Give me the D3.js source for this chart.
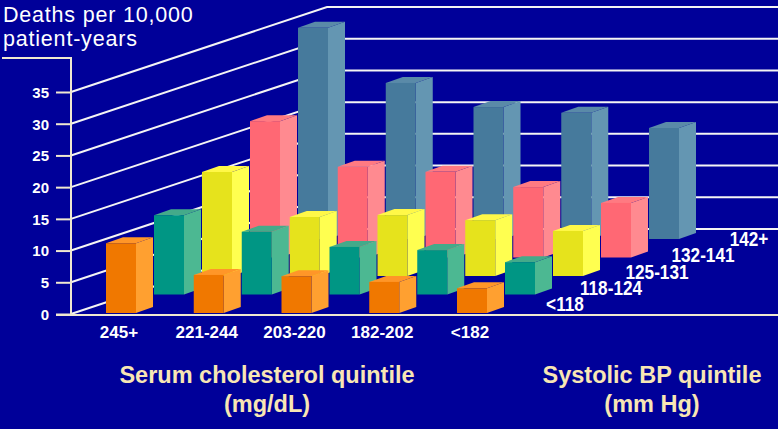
<!DOCTYPE html>
<html>
<head>
<meta charset="utf-8">
<script src="https://cdn.jsdelivr.net/npm/d3@7"></script>
<style>
  html, body { margin: 0; padding: 0; background: #000099; }
  svg { display: block; }
</style>
</head>
<body>
<div id="chart-area"></div>
<script>

const WIDTH = 778;
const HEIGHT = 429;

// serum cholesterol quintiles (columns, left to right)
const cholesterol = ['245+', '221-244', '203-220', '182-202', '<182'];
// systolic BP quintiles (rows, front to back)
const sbp = ['<118', '118-124', '125-131', '132-141', '142+'];

// deaths per 10,000 patient-years, one array per SBP quintile
const sbpUnder118 = [11.0, 6.0, 5.8, 4.9, 3.9];
const sbp118to124 = [12.5, 9.9, 7.5, 7.0, 5.1];
const sbp125to131 = [16.4, 9.3, 9.6, 8.8, 7.1];
const sbp132to141 = [21.5, 14.3, 13.5, 11.1, 8.6];
const sbp142plus  = [33.3, 24.6, 20.8, 19.9, 17.5];

const yTicks = [0, 5, 10, 15, 20, 25, 30, 35];

const rows = [sbpUnder118, sbp118to124, sbp125to131, sbp132to141, sbp142plus];

// front / side / top shades for each row
const palette = [
    { front: '#f07800', side: '#ffa030', top: '#ff9628' },
    { front: '#009684', side: '#4cb892', top: '#44aa8a' },
    { front: '#e6e31c', side: '#ffff50', top: '#fff848' },
    { front: '#ff6874', side: '#ff8a90', top: '#ff7a82' },
    { front: '#467a9c', side: '#6496b2', top: '#5a8aa8' }
];

const BAR_W = 30;
const DEPTH_X = 17;
const DEPTH_Y = -6;
const WALL_X = 256;
const WALL_Y = -85;
const AXIS_X = 71;

const svg = d3.select('#chart-area').append('svg')
    .attr('width', WIDTH)
    .attr('height', HEIGHT)

svg.append('rect')
    .attr('width', WIDTH)
    .attr('height', HEIGHT)
    .attr('fill', '#000099')

const y = d3.scaleLinear()
    .domain([0, 35])
    .range([314, 92])

const x = d3.scalePoint()
    .domain(cholesterol)
    .range([106, 457])

// row depth offsets
const zx = d3.scaleLinear().domain([0, sbp.length - 1]).range([0, 192]);
const zy = d3.scaleLinear().domain([0, sbp.length - 1]).range([313, 239]);

// side wall + back wall grid lines
svg.append('g')
    .selectAll('path')
    .data(yTicks)
    .enter().append('path')
    .attr('d', d => `M${AXIS_X},${y(d)} L${AXIS_X + WALL_X},${y(d) + WALL_Y} L${WIDTH},${y(d) + WALL_Y}`)
    .attr('fill', 'none')
    .attr('stroke', '#f4f4f4')
    .attr('stroke-width', 2)

// y axis
const yAxisCall = d3.axisLeft(y)
    .tickValues(yTicks)
    .tickSize(15)
    .tickSizeOuter(0)
    .tickPadding(7)

const yAxis = svg.append('g')
    .attr('transform', `translate(${AXIS_X}, 0)`)
    .call(yAxisCall)

yAxis.select('.domain').remove()
yAxis.selectAll('line')
    .attr('stroke', '#f0e8d0')
    .attr('stroke-width', 2)
yAxis.selectAll('text')
    .attr('fill', '#ffffff')
    .attr('font-family', '"Liberation Sans Narrow", "Liberation Sans", Arial, sans-serif')
    .attr('font-weight', 'bold')
    .attr('font-size', 15)
    .attr('dy', '0.36em')

svg.append('path')
    .attr('d', `M2,58 L${AXIS_X},58 L${AXIS_X},${y(0)}`)
    .attr('fill', 'none')
    .attr('stroke', '#f0e8d0')
    .attr('stroke-width', 2)

// bars, back row first
const bars = [];
rows.forEach((vals, j) => {
    vals.forEach((v, i) => {
        bars.push({ row: j, col: cholesterol[i], value: v });
    });
});
bars.sort((a, b) => b.row - a.row);

const barG = svg.append('g')
    .selectAll('g')
    .data(bars)
    .enter().append('g')

function geom(d) {
    const x0 = x(d.col) + zx(d.row);
    const yb = zy(d.row);
    const h = y(0) - y(d.value);
    return { x0, yb, yt: yb - h };
}

barG.append('polygon')
    .attr('points', d => {
        const g = geom(d);
        return [
            [g.x0 + BAR_W, g.yb],
            [g.x0 + BAR_W + DEPTH_X, g.yb + DEPTH_Y],
            [g.x0 + BAR_W + DEPTH_X, g.yt + DEPTH_Y],
            [g.x0 + BAR_W, g.yt]
        ].join(' ');
    })
    .attr('fill', d => palette[d.row].side)

barG.append('polygon')
    .attr('points', d => {
        const g = geom(d);
        return [
            [g.x0, g.yt],
            [g.x0 + DEPTH_X, g.yt + DEPTH_Y],
            [g.x0 + BAR_W + DEPTH_X, g.yt + DEPTH_Y],
            [g.x0 + BAR_W, g.yt]
        ].join(' ');
    })
    .attr('fill', d => palette[d.row].top)

barG.append('rect')
    .attr('x', d => geom(d).x0)
    .attr('y', d => geom(d).yt)
    .attr('width', BAR_W)
    .attr('height', d => geom(d).yb - geom(d).yt)
    .attr('fill', d => palette[d.row].front)

// front floor line
svg.append('line')
    .attr('x1', 56)
    .attr('x2', WIDTH)
    .attr('y1', y(0) + 1)
    .attr('y2', y(0) + 1)
    .attr('stroke', '#f0e8d0')
    .attr('stroke-width', 2)

// cholesterol labels
svg.append('g')
    .selectAll('text')
    .data(cholesterol)
    .enter().append('text')
    .attr('x', d => x(d) + 13)
    .attr('y', 338)
    .attr('text-anchor', 'middle')
    .attr('fill', '#ffffff')
    .attr('font-family', '"Liberation Sans", Arial, sans-serif')
    .attr('font-weight', 'bold')
    .attr('font-size', 17)
    .text(d => d)

// SBP labels along the right floor edge
const rowLabelX = d3.scaleLinear().domain([0, sbp.length - 1]).range([565, 749]);
const rowLabelY = d3.scaleLinear().domain([0, sbp.length - 1]).range([311, 246]);

svg.append('g')
    .selectAll('text')
    .data(sbp)
    .enter().append('text')
    .attr('transform', (d, j) => `translate(${rowLabelX(j)}, ${rowLabelY(j)}) scale(0.86, 1)`)
    .attr('text-anchor', 'middle')
    .attr('fill', '#ffffff')
    .attr('font-family', '"Liberation Sans", Arial, sans-serif')
    .attr('font-weight', 'bold')
    .attr('font-size', 20)
    .text(d => d)

// y axis title, two lines
const yTitleLines = ['Deaths per 10,000', 'patient-years'];
svg.append('g')
    .selectAll('text')
    .data(yTitleLines)
    .enter().append('text')
    .attr('x', 3)
    .attr('y', (d, k) => 22 + k * 24)
    .attr('fill', '#ffffff')
    .attr('font-family', '"Liberation Sans", Arial, sans-serif')
    .attr('font-size', 21.5)
    .attr('letter-spacing', 0.8)
    .text(d => d)

// axis titles
const titles = [
    { x: 267, lines: ['Serum cholesterol quintile', '(mg/dL)'] },
    { x: 652, lines: ['Systolic BP quintile', '(mm Hg)'] }
];

titles.forEach(t => {
    const txt = svg.append('text')
        .attr('text-anchor', 'middle')
        .attr('fill', '#f8e6b4')
        .attr('font-family', '"Liberation Sans", Arial, sans-serif')
        .attr('font-weight', 'bold')
        .attr('font-size', 23.5)
    t.lines.forEach((l, k) => {
        txt.append('tspan').attr('x', t.x).attr('y', 383 + k * 29).text(l)
    })
})

</script>
</body>
</html>
